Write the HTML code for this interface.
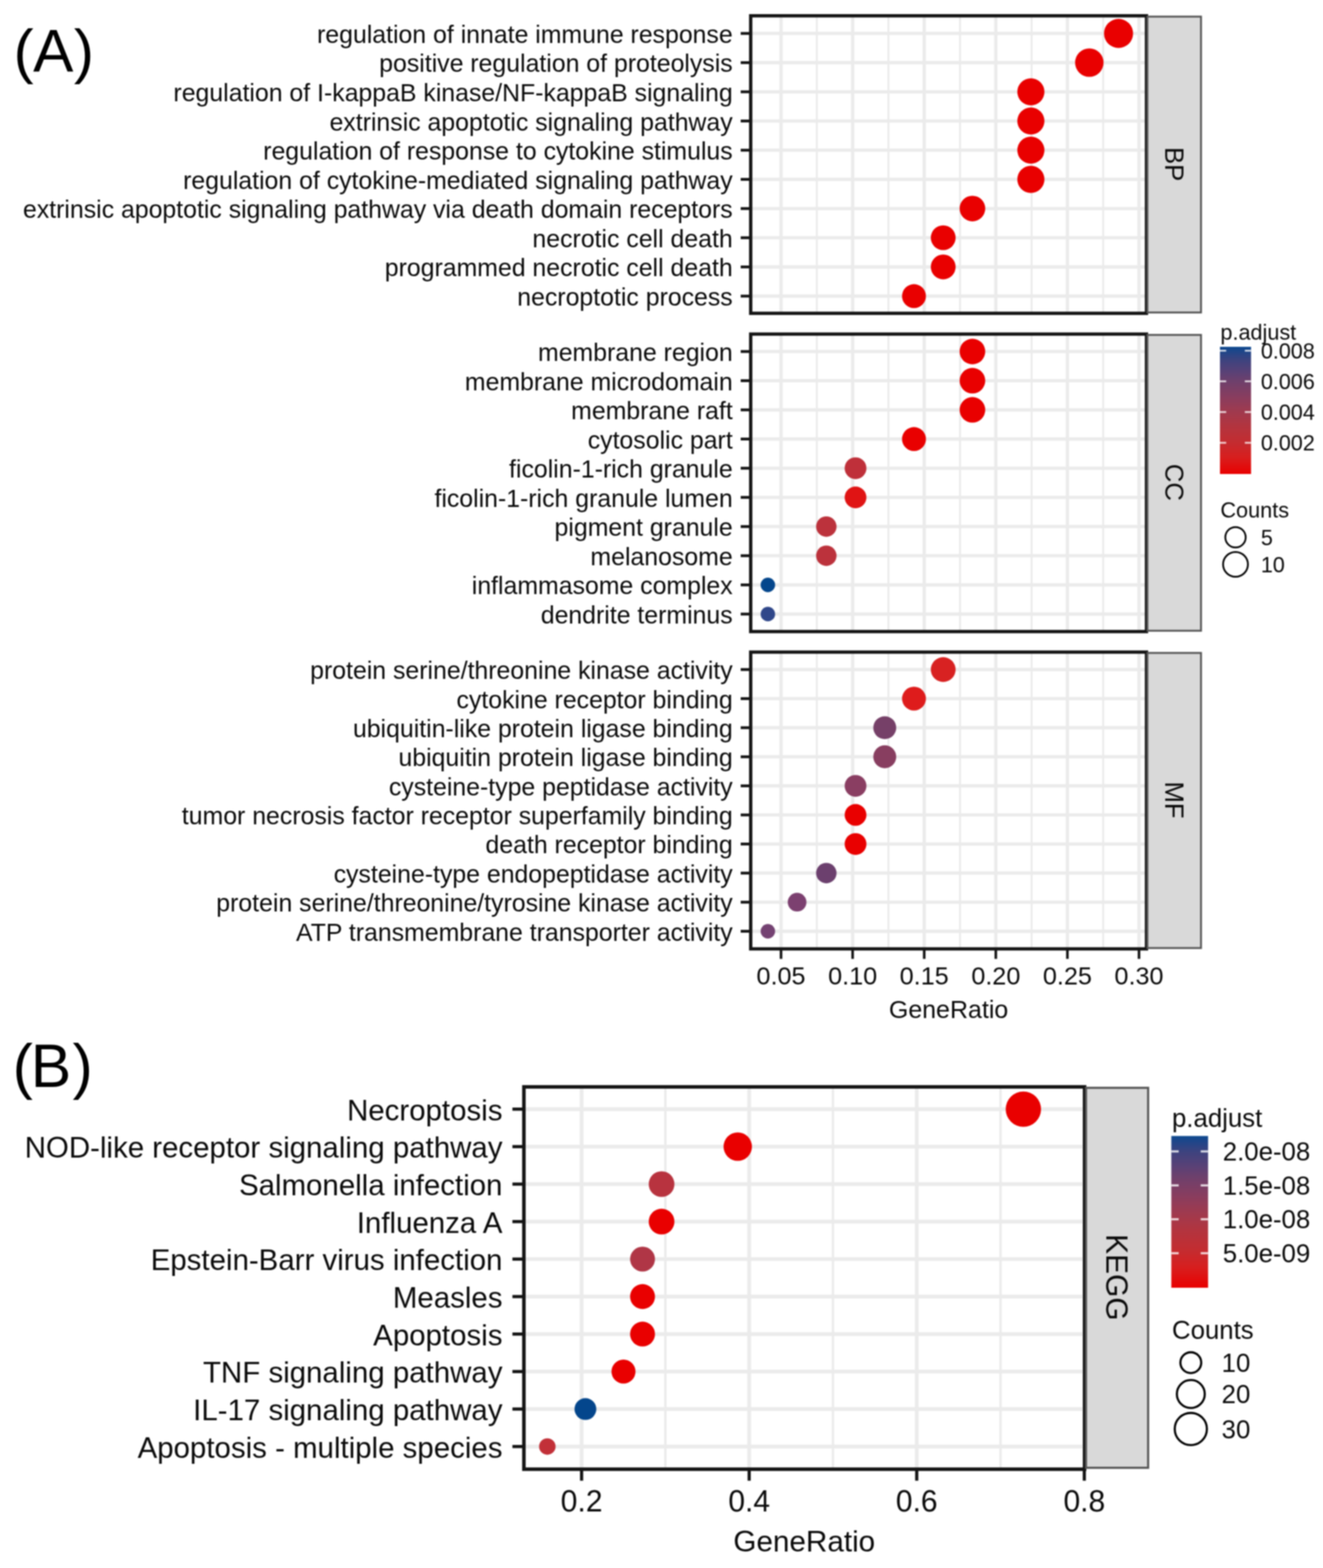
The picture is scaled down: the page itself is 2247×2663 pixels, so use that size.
<!DOCTYPE html>
<html lang="en"><head><meta charset="utf-8"><title>GO and KEGG enrichment dot plots</title>
<style>
html,body{margin:0;padding:0;background:#fff;}
body{width:2247px;height:2663px;overflow:hidden;}
svg{display:block;filter:blur(0.8px);}
text{font-family:"Liberation Sans", Arial, Helvetica, sans-serif;}
</style></head><body>
<svg width="2247" height="2663" viewBox="0 0 2247 2663" font-family='"Liberation Sans", Arial, Helvetica, sans-serif'>
<defs><linearGradient id="g" x1="0" y1="0" x2="0" y2="1"><stop offset="0.0" stop-color="#0d4a90"/><stop offset="0.03" stop-color="#1c468a"/><stop offset="0.1" stop-color="#3c437f"/><stop offset="0.2" stop-color="#5a4176"/><stop offset="0.27" stop-color="#6e406c"/><stop offset="0.4" stop-color="#8a3d5e"/><stop offset="0.51" stop-color="#a03a4e"/><stop offset="0.63" stop-color="#b4343e"/><stop offset="0.755" stop-color="#c42c30"/><stop offset="0.87" stop-color="#d81e1e"/><stop offset="1.0" stop-color="#e90000"/></linearGradient></defs>
<rect width="2247" height="2663" fill="#ffffff"/>
<text x="22.9" y="121.5" dx="0 -0.9 0.9" font-size="102.5" fill="#000000">(A)</text>
<text x="21.5" y="1846.0" dx="0 -3.6 2.4" font-size="103" fill="#000000">(B)</text>
<rect x="1275.0" y="26.8" width="672.2" height="505.3" fill="#ffffff"/>
<line x1="1387.30" x2="1387.30" y1="26.8" y2="532.1" stroke="#ebebeb" stroke-width="3.3"/>
<line x1="1508.90" x2="1508.90" y1="26.8" y2="532.1" stroke="#ebebeb" stroke-width="3.3"/>
<line x1="1630.50" x2="1630.50" y1="26.8" y2="532.1" stroke="#ebebeb" stroke-width="3.3"/>
<line x1="1752.10" x2="1752.10" y1="26.8" y2="532.1" stroke="#ebebeb" stroke-width="3.3"/>
<line x1="1873.70" x2="1873.70" y1="26.8" y2="532.1" stroke="#ebebeb" stroke-width="3.3"/>
<line x1="1326.50" x2="1326.50" y1="26.8" y2="532.1" stroke="#ebebeb" stroke-width="5.6"/>
<line x1="1448.10" x2="1448.10" y1="26.8" y2="532.1" stroke="#ebebeb" stroke-width="5.6"/>
<line x1="1569.70" x2="1569.70" y1="26.8" y2="532.1" stroke="#ebebeb" stroke-width="5.6"/>
<line x1="1691.30" x2="1691.30" y1="26.8" y2="532.1" stroke="#ebebeb" stroke-width="5.6"/>
<line x1="1812.90" x2="1812.90" y1="26.8" y2="532.1" stroke="#ebebeb" stroke-width="5.6"/>
<line x1="1934.50" x2="1934.50" y1="26.8" y2="532.1" stroke="#ebebeb" stroke-width="5.6"/>
<line x1="1275.0" x2="1947.2" y1="56.80" y2="56.80" stroke="#ebebeb" stroke-width="5.6"/>
<line x1="1275.0" x2="1947.2" y1="106.37" y2="106.37" stroke="#ebebeb" stroke-width="5.6"/>
<line x1="1275.0" x2="1947.2" y1="155.93" y2="155.93" stroke="#ebebeb" stroke-width="5.6"/>
<line x1="1275.0" x2="1947.2" y1="205.50" y2="205.50" stroke="#ebebeb" stroke-width="5.6"/>
<line x1="1275.0" x2="1947.2" y1="255.07" y2="255.07" stroke="#ebebeb" stroke-width="5.6"/>
<line x1="1275.0" x2="1947.2" y1="304.63" y2="304.63" stroke="#ebebeb" stroke-width="5.6"/>
<line x1="1275.0" x2="1947.2" y1="354.20" y2="354.20" stroke="#ebebeb" stroke-width="5.6"/>
<line x1="1275.0" x2="1947.2" y1="403.77" y2="403.77" stroke="#ebebeb" stroke-width="5.6"/>
<line x1="1275.0" x2="1947.2" y1="453.33" y2="453.33" stroke="#ebebeb" stroke-width="5.6"/>
<line x1="1275.0" x2="1947.2" y1="502.90" y2="502.90" stroke="#ebebeb" stroke-width="5.6"/>
<circle cx="1899.76" cy="56.80" r="24.70" fill="#e90000"/>
<circle cx="1850.12" cy="106.37" r="24.17" fill="#e90000"/>
<circle cx="1750.86" cy="155.93" r="23.04" fill="#e90000"/>
<circle cx="1750.86" cy="205.50" r="23.04" fill="#e90000"/>
<circle cx="1750.86" cy="255.07" r="23.04" fill="#e90000"/>
<circle cx="1750.86" cy="304.63" r="23.04" fill="#e90000"/>
<circle cx="1651.59" cy="354.20" r="21.77" fill="#e90000"/>
<circle cx="1601.96" cy="403.77" r="21.07" fill="#e90000"/>
<circle cx="1601.96" cy="453.33" r="21.07" fill="#e90000"/>
<circle cx="1552.33" cy="502.90" r="20.30" fill="#e90000"/>
<rect x="1275.0" y="26.8" width="672.2" height="505.3" fill="none" stroke="#141414" stroke-width="5.6"/>
<rect x="1948.8" y="28.2" width="91.0" height="502.50000000000006" fill="#d9d9d9" stroke="#555555" stroke-width="3.2"/>
<text transform="translate(1994.30,278.65) rotate(90)" x="0" y="15.66" font-size="43.5" text-anchor="middle" fill="#0a0a0a">BP</text>
<line x1="1258.00" x2="1275.00" y1="56.80" y2="56.80" stroke="#141414" stroke-width="4.8"/>
<text x="1244.40" y="72.84" font-size="42.2" text-anchor="end" fill="#0a0a0a">regulation of innate immune response</text>
<line x1="1258.00" x2="1275.00" y1="106.37" y2="106.37" stroke="#141414" stroke-width="4.8"/>
<text x="1244.40" y="122.40" font-size="42.2" text-anchor="end" fill="#0a0a0a">positive regulation of proteolysis</text>
<line x1="1258.00" x2="1275.00" y1="155.93" y2="155.93" stroke="#141414" stroke-width="4.8"/>
<text x="1244.40" y="171.97" font-size="42.2" text-anchor="end" fill="#0a0a0a">regulation of I-kappaB kinase/NF-kappaB signaling</text>
<line x1="1258.00" x2="1275.00" y1="205.50" y2="205.50" stroke="#141414" stroke-width="4.8"/>
<text x="1244.40" y="221.54" font-size="42.2" text-anchor="end" fill="#0a0a0a">extrinsic apoptotic signaling pathway</text>
<line x1="1258.00" x2="1275.00" y1="255.07" y2="255.07" stroke="#141414" stroke-width="4.8"/>
<text x="1244.40" y="271.10" font-size="42.2" text-anchor="end" fill="#0a0a0a">regulation of response to cytokine stimulus</text>
<line x1="1258.00" x2="1275.00" y1="304.63" y2="304.63" stroke="#141414" stroke-width="4.8"/>
<text x="1244.40" y="320.67" font-size="42.2" text-anchor="end" fill="#0a0a0a">regulation of cytokine-mediated signaling pathway</text>
<line x1="1258.00" x2="1275.00" y1="354.20" y2="354.20" stroke="#141414" stroke-width="4.8"/>
<text x="1244.40" y="370.24" font-size="42.2" text-anchor="end" fill="#0a0a0a">extrinsic apoptotic signaling pathway via death domain receptors</text>
<line x1="1258.00" x2="1275.00" y1="403.77" y2="403.77" stroke="#141414" stroke-width="4.8"/>
<text x="1244.40" y="419.80" font-size="42.2" text-anchor="end" fill="#0a0a0a">necrotic cell death</text>
<line x1="1258.00" x2="1275.00" y1="453.33" y2="453.33" stroke="#141414" stroke-width="4.8"/>
<text x="1244.40" y="469.37" font-size="42.2" text-anchor="end" fill="#0a0a0a">programmed necrotic cell death</text>
<line x1="1258.00" x2="1275.00" y1="502.90" y2="502.90" stroke="#141414" stroke-width="4.8"/>
<text x="1244.40" y="518.94" font-size="42.2" text-anchor="end" fill="#0a0a0a">necroptotic process</text>
<rect x="1275.0" y="567.4" width="672.2" height="505.19999999999993" fill="#ffffff"/>
<line x1="1387.30" x2="1387.30" y1="567.4" y2="1072.6" stroke="#ebebeb" stroke-width="3.3"/>
<line x1="1508.90" x2="1508.90" y1="567.4" y2="1072.6" stroke="#ebebeb" stroke-width="3.3"/>
<line x1="1630.50" x2="1630.50" y1="567.4" y2="1072.6" stroke="#ebebeb" stroke-width="3.3"/>
<line x1="1752.10" x2="1752.10" y1="567.4" y2="1072.6" stroke="#ebebeb" stroke-width="3.3"/>
<line x1="1873.70" x2="1873.70" y1="567.4" y2="1072.6" stroke="#ebebeb" stroke-width="3.3"/>
<line x1="1326.50" x2="1326.50" y1="567.4" y2="1072.6" stroke="#ebebeb" stroke-width="5.6"/>
<line x1="1448.10" x2="1448.10" y1="567.4" y2="1072.6" stroke="#ebebeb" stroke-width="5.6"/>
<line x1="1569.70" x2="1569.70" y1="567.4" y2="1072.6" stroke="#ebebeb" stroke-width="5.6"/>
<line x1="1691.30" x2="1691.30" y1="567.4" y2="1072.6" stroke="#ebebeb" stroke-width="5.6"/>
<line x1="1812.90" x2="1812.90" y1="567.4" y2="1072.6" stroke="#ebebeb" stroke-width="5.6"/>
<line x1="1934.50" x2="1934.50" y1="567.4" y2="1072.6" stroke="#ebebeb" stroke-width="5.6"/>
<line x1="1275.0" x2="1947.2" y1="597.00" y2="597.00" stroke="#ebebeb" stroke-width="5.6"/>
<line x1="1275.0" x2="1947.2" y1="646.54" y2="646.54" stroke="#ebebeb" stroke-width="5.6"/>
<line x1="1275.0" x2="1947.2" y1="696.09" y2="696.09" stroke="#ebebeb" stroke-width="5.6"/>
<line x1="1275.0" x2="1947.2" y1="745.63" y2="745.63" stroke="#ebebeb" stroke-width="5.6"/>
<line x1="1275.0" x2="1947.2" y1="795.18" y2="795.18" stroke="#ebebeb" stroke-width="5.6"/>
<line x1="1275.0" x2="1947.2" y1="844.72" y2="844.72" stroke="#ebebeb" stroke-width="5.6"/>
<line x1="1275.0" x2="1947.2" y1="894.27" y2="894.27" stroke="#ebebeb" stroke-width="5.6"/>
<line x1="1275.0" x2="1947.2" y1="943.81" y2="943.81" stroke="#ebebeb" stroke-width="5.6"/>
<line x1="1275.0" x2="1947.2" y1="993.36" y2="993.36" stroke="#ebebeb" stroke-width="5.6"/>
<line x1="1275.0" x2="1947.2" y1="1042.90" y2="1042.90" stroke="#ebebeb" stroke-width="5.6"/>
<circle cx="1651.59" cy="597.00" r="21.77" fill="#e90000"/>
<circle cx="1651.59" cy="646.54" r="21.77" fill="#e90000"/>
<circle cx="1651.59" cy="696.09" r="21.77" fill="#e90000"/>
<circle cx="1552.33" cy="745.63" r="20.30" fill="#e90000"/>
<circle cx="1453.06" cy="795.18" r="18.50" fill="#bf303a"/>
<circle cx="1453.06" cy="844.72" r="18.50" fill="#e01414"/>
<circle cx="1403.43" cy="894.27" r="17.36" fill="#bc323c"/>
<circle cx="1403.43" cy="943.81" r="17.36" fill="#bc323c"/>
<circle cx="1304.17" cy="993.36" r="12.30" fill="#04468c"/>
<circle cx="1304.17" cy="1042.90" r="12.30" fill="#30478a"/>
<rect x="1275.0" y="567.4" width="672.2" height="505.19999999999993" fill="none" stroke="#141414" stroke-width="5.6"/>
<rect x="1948.8" y="568.8" width="91.0" height="502.39999999999986" fill="#d9d9d9" stroke="#555555" stroke-width="3.2"/>
<text transform="translate(1994.30,819.20) rotate(90)" x="0" y="15.66" font-size="43.5" text-anchor="middle" fill="#0a0a0a">CC</text>
<line x1="1258.00" x2="1275.00" y1="597.00" y2="597.00" stroke="#141414" stroke-width="4.8"/>
<text x="1244.40" y="613.04" font-size="42.2" text-anchor="end" fill="#0a0a0a">membrane region</text>
<line x1="1258.00" x2="1275.00" y1="646.54" y2="646.54" stroke="#141414" stroke-width="4.8"/>
<text x="1244.40" y="662.58" font-size="42.2" text-anchor="end" fill="#0a0a0a">membrane microdomain</text>
<line x1="1258.00" x2="1275.00" y1="696.09" y2="696.09" stroke="#141414" stroke-width="4.8"/>
<text x="1244.40" y="712.12" font-size="42.2" text-anchor="end" fill="#0a0a0a">membrane raft</text>
<line x1="1258.00" x2="1275.00" y1="745.63" y2="745.63" stroke="#141414" stroke-width="4.8"/>
<text x="1244.40" y="761.67" font-size="42.2" text-anchor="end" fill="#0a0a0a">cytosolic part</text>
<line x1="1258.00" x2="1275.00" y1="795.18" y2="795.18" stroke="#141414" stroke-width="4.8"/>
<text x="1244.40" y="811.21" font-size="42.2" text-anchor="end" fill="#0a0a0a">ficolin-1-rich granule</text>
<line x1="1258.00" x2="1275.00" y1="844.72" y2="844.72" stroke="#141414" stroke-width="4.8"/>
<text x="1244.40" y="860.76" font-size="42.2" text-anchor="end" fill="#0a0a0a">ficolin-1-rich granule lumen</text>
<line x1="1258.00" x2="1275.00" y1="894.27" y2="894.27" stroke="#141414" stroke-width="4.8"/>
<text x="1244.40" y="910.30" font-size="42.2" text-anchor="end" fill="#0a0a0a">pigment granule</text>
<line x1="1258.00" x2="1275.00" y1="943.81" y2="943.81" stroke="#141414" stroke-width="4.8"/>
<text x="1244.40" y="959.85" font-size="42.2" text-anchor="end" fill="#0a0a0a">melanosome</text>
<line x1="1258.00" x2="1275.00" y1="993.36" y2="993.36" stroke="#141414" stroke-width="4.8"/>
<text x="1244.40" y="1009.39" font-size="42.2" text-anchor="end" fill="#0a0a0a">inflammasome complex</text>
<line x1="1258.00" x2="1275.00" y1="1042.90" y2="1042.90" stroke="#141414" stroke-width="4.8"/>
<text x="1244.40" y="1058.94" font-size="42.2" text-anchor="end" fill="#0a0a0a">dendrite terminus</text>
<rect x="1275.0" y="1107.5" width="672.2" height="504.0" fill="#ffffff"/>
<line x1="1387.30" x2="1387.30" y1="1107.5" y2="1611.5" stroke="#ebebeb" stroke-width="3.3"/>
<line x1="1508.90" x2="1508.90" y1="1107.5" y2="1611.5" stroke="#ebebeb" stroke-width="3.3"/>
<line x1="1630.50" x2="1630.50" y1="1107.5" y2="1611.5" stroke="#ebebeb" stroke-width="3.3"/>
<line x1="1752.10" x2="1752.10" y1="1107.5" y2="1611.5" stroke="#ebebeb" stroke-width="3.3"/>
<line x1="1873.70" x2="1873.70" y1="1107.5" y2="1611.5" stroke="#ebebeb" stroke-width="3.3"/>
<line x1="1326.50" x2="1326.50" y1="1107.5" y2="1611.5" stroke="#ebebeb" stroke-width="5.6"/>
<line x1="1448.10" x2="1448.10" y1="1107.5" y2="1611.5" stroke="#ebebeb" stroke-width="5.6"/>
<line x1="1569.70" x2="1569.70" y1="1107.5" y2="1611.5" stroke="#ebebeb" stroke-width="5.6"/>
<line x1="1691.30" x2="1691.30" y1="1107.5" y2="1611.5" stroke="#ebebeb" stroke-width="5.6"/>
<line x1="1812.90" x2="1812.90" y1="1107.5" y2="1611.5" stroke="#ebebeb" stroke-width="5.6"/>
<line x1="1934.50" x2="1934.50" y1="1107.5" y2="1611.5" stroke="#ebebeb" stroke-width="5.6"/>
<line x1="1275.0" x2="1947.2" y1="1137.10" y2="1137.10" stroke="#ebebeb" stroke-width="5.6"/>
<line x1="1275.0" x2="1947.2" y1="1186.49" y2="1186.49" stroke="#ebebeb" stroke-width="5.6"/>
<line x1="1275.0" x2="1947.2" y1="1235.88" y2="1235.88" stroke="#ebebeb" stroke-width="5.6"/>
<line x1="1275.0" x2="1947.2" y1="1285.27" y2="1285.27" stroke="#ebebeb" stroke-width="5.6"/>
<line x1="1275.0" x2="1947.2" y1="1334.66" y2="1334.66" stroke="#ebebeb" stroke-width="5.6"/>
<line x1="1275.0" x2="1947.2" y1="1384.04" y2="1384.04" stroke="#ebebeb" stroke-width="5.6"/>
<line x1="1275.0" x2="1947.2" y1="1433.43" y2="1433.43" stroke="#ebebeb" stroke-width="5.6"/>
<line x1="1275.0" x2="1947.2" y1="1482.82" y2="1482.82" stroke="#ebebeb" stroke-width="5.6"/>
<line x1="1275.0" x2="1947.2" y1="1532.21" y2="1532.21" stroke="#ebebeb" stroke-width="5.6"/>
<line x1="1275.0" x2="1947.2" y1="1581.60" y2="1581.60" stroke="#ebebeb" stroke-width="5.6"/>
<circle cx="1601.96" cy="1137.10" r="21.07" fill="#d82222"/>
<circle cx="1552.33" cy="1186.49" r="20.30" fill="#de1c1c"/>
<circle cx="1502.70" cy="1235.88" r="19.46" fill="#764068"/>
<circle cx="1502.70" cy="1285.27" r="19.46" fill="#883e60"/>
<circle cx="1453.06" cy="1334.66" r="18.50" fill="#8a3e62"/>
<circle cx="1453.06" cy="1384.04" r="18.50" fill="#e90000"/>
<circle cx="1453.06" cy="1433.43" r="18.50" fill="#e90000"/>
<circle cx="1403.43" cy="1482.82" r="17.36" fill="#6c406e"/>
<circle cx="1353.80" cy="1532.21" r="15.88" fill="#7c4070"/>
<circle cx="1304.17" cy="1581.60" r="12.30" fill="#744272"/>
<rect x="1275.0" y="1107.5" width="672.2" height="504.0" fill="none" stroke="#141414" stroke-width="5.6"/>
<rect x="1948.8" y="1108.9" width="91.0" height="501.1999999999998" fill="#d9d9d9" stroke="#555555" stroke-width="3.2"/>
<text transform="translate(1994.30,1358.70) rotate(90)" x="0" y="15.66" font-size="43.5" text-anchor="middle" fill="#0a0a0a">MF</text>
<line x1="1258.00" x2="1275.00" y1="1137.10" y2="1137.10" stroke="#141414" stroke-width="4.8"/>
<text x="1244.40" y="1153.14" font-size="42.2" text-anchor="end" fill="#0a0a0a">protein serine/threonine kinase activity</text>
<line x1="1258.00" x2="1275.00" y1="1186.49" y2="1186.49" stroke="#141414" stroke-width="4.8"/>
<text x="1244.40" y="1202.52" font-size="42.2" text-anchor="end" fill="#0a0a0a">cytokine receptor binding</text>
<line x1="1258.00" x2="1275.00" y1="1235.88" y2="1235.88" stroke="#141414" stroke-width="4.8"/>
<text x="1244.40" y="1251.91" font-size="42.2" text-anchor="end" fill="#0a0a0a">ubiquitin-like protein ligase binding</text>
<line x1="1258.00" x2="1275.00" y1="1285.27" y2="1285.27" stroke="#141414" stroke-width="4.8"/>
<text x="1244.40" y="1301.30" font-size="42.2" text-anchor="end" fill="#0a0a0a">ubiquitin protein ligase binding</text>
<line x1="1258.00" x2="1275.00" y1="1334.66" y2="1334.66" stroke="#141414" stroke-width="4.8"/>
<text x="1244.40" y="1350.69" font-size="42.2" text-anchor="end" fill="#0a0a0a">cysteine-type peptidase activity</text>
<line x1="1258.00" x2="1275.00" y1="1384.04" y2="1384.04" stroke="#141414" stroke-width="4.8"/>
<text x="1244.40" y="1400.08" font-size="42.2" text-anchor="end" fill="#0a0a0a">tumor necrosis factor receptor superfamily binding</text>
<line x1="1258.00" x2="1275.00" y1="1433.43" y2="1433.43" stroke="#141414" stroke-width="4.8"/>
<text x="1244.40" y="1449.47" font-size="42.2" text-anchor="end" fill="#0a0a0a">death receptor binding</text>
<line x1="1258.00" x2="1275.00" y1="1482.82" y2="1482.82" stroke="#141414" stroke-width="4.8"/>
<text x="1244.40" y="1498.86" font-size="42.2" text-anchor="end" fill="#0a0a0a">cysteine-type endopeptidase activity</text>
<line x1="1258.00" x2="1275.00" y1="1532.21" y2="1532.21" stroke="#141414" stroke-width="4.8"/>
<text x="1244.40" y="1548.25" font-size="42.2" text-anchor="end" fill="#0a0a0a">protein serine/threonine/tyrosine kinase activity</text>
<line x1="1258.00" x2="1275.00" y1="1581.60" y2="1581.60" stroke="#141414" stroke-width="4.8"/>
<text x="1244.40" y="1597.64" font-size="42.2" text-anchor="end" fill="#0a0a0a">ATP transmembrane transporter activity</text>
<line x1="1326.50" x2="1326.50" y1="1611.5" y2="1628.50" stroke="#141414" stroke-width="4.4"/>
<text x="1326.50" y="1672.40" font-size="42.8" text-anchor="middle" fill="#0a0a0a">0.05</text>
<line x1="1448.10" x2="1448.10" y1="1611.5" y2="1628.50" stroke="#141414" stroke-width="4.4"/>
<text x="1448.10" y="1672.40" font-size="42.8" text-anchor="middle" fill="#0a0a0a">0.10</text>
<line x1="1569.70" x2="1569.70" y1="1611.5" y2="1628.50" stroke="#141414" stroke-width="4.4"/>
<text x="1569.70" y="1672.40" font-size="42.8" text-anchor="middle" fill="#0a0a0a">0.15</text>
<line x1="1691.30" x2="1691.30" y1="1611.5" y2="1628.50" stroke="#141414" stroke-width="4.4"/>
<text x="1691.30" y="1672.40" font-size="42.8" text-anchor="middle" fill="#0a0a0a">0.20</text>
<line x1="1812.90" x2="1812.90" y1="1611.5" y2="1628.50" stroke="#141414" stroke-width="4.4"/>
<text x="1812.90" y="1672.40" font-size="42.8" text-anchor="middle" fill="#0a0a0a">0.25</text>
<line x1="1934.50" x2="1934.50" y1="1611.5" y2="1628.50" stroke="#141414" stroke-width="4.4"/>
<text x="1934.50" y="1672.40" font-size="42.8" text-anchor="middle" fill="#0a0a0a">0.30</text>
<text x="1611.10" y="1728.50" font-size="42.4" text-anchor="middle" fill="#0a0a0a">GeneRatio</text>
<text x="2072.70" y="577.40" font-size="36.8" text-anchor="start" fill="#0a0a0a">p.adjust</text>
<rect x="2072.0" y="589.0" width="52.80000000000018" height="216.0" fill="url(#g)"/>
<line x1="2072.0" x2="2082.56" y1="595.6" y2="595.6" stroke="#ffffff" stroke-opacity="0.8" stroke-width="3.0"/>
<line x1="2114.24" x2="2124.8" y1="595.6" y2="595.6" stroke="#ffffff" stroke-opacity="0.8" stroke-width="3.0"/>
<text x="2141.50" y="608.78" font-size="36.6" text-anchor="start" fill="#0a0a0a">0.008</text>
<line x1="2072.0" x2="2082.56" y1="647.6" y2="647.6" stroke="#ffffff" stroke-opacity="0.8" stroke-width="3.0"/>
<line x1="2114.24" x2="2124.8" y1="647.6" y2="647.6" stroke="#ffffff" stroke-opacity="0.8" stroke-width="3.0"/>
<text x="2141.50" y="660.78" font-size="36.6" text-anchor="start" fill="#0a0a0a">0.006</text>
<line x1="2072.0" x2="2082.56" y1="699.8" y2="699.8" stroke="#ffffff" stroke-opacity="0.8" stroke-width="3.0"/>
<line x1="2114.24" x2="2124.8" y1="699.8" y2="699.8" stroke="#ffffff" stroke-opacity="0.8" stroke-width="3.0"/>
<text x="2141.50" y="712.98" font-size="36.6" text-anchor="start" fill="#0a0a0a">0.004</text>
<line x1="2072.0" x2="2082.56" y1="752.0" y2="752.0" stroke="#ffffff" stroke-opacity="0.8" stroke-width="3.0"/>
<line x1="2114.24" x2="2124.8" y1="752.0" y2="752.0" stroke="#ffffff" stroke-opacity="0.8" stroke-width="3.0"/>
<text x="2141.50" y="765.18" font-size="36.6" text-anchor="start" fill="#0a0a0a">0.002</text>
<text x="2072.70" y="878.50" font-size="36.8" text-anchor="start" fill="#0a0a0a">Counts</text>
<circle cx="2098.4" cy="912.5" r="17.3" fill="none" stroke="#000000" stroke-width="3.0"/>
<text x="2141.50" y="925.68" font-size="36.6" text-anchor="start" fill="#0a0a0a">5</text>
<circle cx="2098.4" cy="958.5" r="21.1" fill="none" stroke="#000000" stroke-width="3.0"/>
<text x="2141.50" y="971.68" font-size="36.6" text-anchor="start" fill="#0a0a0a">10</text>
<rect x="889.8" y="1845.9" width="952.3" height="649.2999999999997" fill="#ffffff"/>
<line x1="1130.10" x2="1130.10" y1="1845.9" y2="2495.2" stroke="#ebebeb" stroke-width="4.0"/>
<line x1="1414.70" x2="1414.70" y1="1845.9" y2="2495.2" stroke="#ebebeb" stroke-width="4.0"/>
<line x1="1699.30" x2="1699.30" y1="1845.9" y2="2495.2" stroke="#ebebeb" stroke-width="4.0"/>
<line x1="987.80" x2="987.80" y1="1845.9" y2="2495.2" stroke="#ebebeb" stroke-width="6.4"/>
<line x1="1272.40" x2="1272.40" y1="1845.9" y2="2495.2" stroke="#ebebeb" stroke-width="6.4"/>
<line x1="1557.00" x2="1557.00" y1="1845.9" y2="2495.2" stroke="#ebebeb" stroke-width="6.4"/>
<line x1="1841.60" x2="1841.60" y1="1845.9" y2="2495.2" stroke="#ebebeb" stroke-width="6.4"/>
<line x1="889.8" x2="1842.1" y1="1883.70" y2="1883.70" stroke="#ebebeb" stroke-width="6.4"/>
<line x1="889.8" x2="1842.1" y1="1947.37" y2="1947.37" stroke="#ebebeb" stroke-width="6.4"/>
<line x1="889.8" x2="1842.1" y1="2011.03" y2="2011.03" stroke="#ebebeb" stroke-width="6.4"/>
<line x1="889.8" x2="1842.1" y1="2074.70" y2="2074.70" stroke="#ebebeb" stroke-width="6.4"/>
<line x1="889.8" x2="1842.1" y1="2138.37" y2="2138.37" stroke="#ebebeb" stroke-width="6.4"/>
<line x1="889.8" x2="1842.1" y1="2202.03" y2="2202.03" stroke="#ebebeb" stroke-width="6.4"/>
<line x1="889.8" x2="1842.1" y1="2265.70" y2="2265.70" stroke="#ebebeb" stroke-width="6.4"/>
<line x1="889.8" x2="1842.1" y1="2329.37" y2="2329.37" stroke="#ebebeb" stroke-width="6.4"/>
<line x1="889.8" x2="1842.1" y1="2393.03" y2="2393.03" stroke="#ebebeb" stroke-width="6.4"/>
<line x1="889.8" x2="1842.1" y1="2456.70" y2="2456.70" stroke="#ebebeb" stroke-width="6.4"/>
<circle cx="1738.11" cy="1883.70" r="30.00" fill="#e90000"/>
<circle cx="1253.00" cy="1947.37" r="24.12" fill="#e90000"/>
<circle cx="1123.63" cy="2011.03" r="21.84" fill="#b8333f"/>
<circle cx="1123.63" cy="2074.70" r="21.84" fill="#e90000"/>
<circle cx="1091.29" cy="2138.37" r="21.16" fill="#b03646"/>
<circle cx="1091.29" cy="2202.03" r="21.16" fill="#e90000"/>
<circle cx="1091.29" cy="2265.70" r="21.16" fill="#e90000"/>
<circle cx="1058.95" cy="2329.37" r="20.40" fill="#e90000"/>
<circle cx="994.27" cy="2393.03" r="18.53" fill="#04468c"/>
<circle cx="929.59" cy="2456.70" r="14.00" fill="#c23038"/>
<rect x="889.8" y="1845.9" width="952.3" height="649.2999999999997" fill="none" stroke="#141414" stroke-width="6.0"/>
<rect x="1844.5" y="1847.5" width="105.5" height="645.2999999999997" fill="#d9d9d9" stroke="#555555" stroke-width="3.6"/>
<text transform="translate(1897.25,2169.35) rotate(90)" x="0" y="18.36" font-size="51.0" text-anchor="middle" fill="#0a0a0a">KEGG</text>
<line x1="870.30" x2="889.80" y1="1883.70" y2="1883.70" stroke="#141414" stroke-width="5.4"/>
<text x="853.40" y="1902.70" font-size="50.0" text-anchor="end" fill="#0a0a0a">Necroptosis</text>
<line x1="870.30" x2="889.80" y1="1947.37" y2="1947.37" stroke="#141414" stroke-width="5.4"/>
<text x="853.40" y="1966.37" font-size="50.0" text-anchor="end" fill="#0a0a0a">NOD-like receptor signaling pathway</text>
<line x1="870.30" x2="889.80" y1="2011.03" y2="2011.03" stroke="#141414" stroke-width="5.4"/>
<text x="853.40" y="2030.03" font-size="50.0" text-anchor="end" fill="#0a0a0a">Salmonella infection</text>
<line x1="870.30" x2="889.80" y1="2074.70" y2="2074.70" stroke="#141414" stroke-width="5.4"/>
<text x="853.40" y="2093.70" font-size="50.0" text-anchor="end" fill="#0a0a0a">Influenza A</text>
<line x1="870.30" x2="889.80" y1="2138.37" y2="2138.37" stroke="#141414" stroke-width="5.4"/>
<text x="853.40" y="2157.37" font-size="50.0" text-anchor="end" fill="#0a0a0a">Epstein-Barr virus infection</text>
<line x1="870.30" x2="889.80" y1="2202.03" y2="2202.03" stroke="#141414" stroke-width="5.4"/>
<text x="853.40" y="2221.03" font-size="50.0" text-anchor="end" fill="#0a0a0a">Measles</text>
<line x1="870.30" x2="889.80" y1="2265.70" y2="2265.70" stroke="#141414" stroke-width="5.4"/>
<text x="853.40" y="2284.70" font-size="50.0" text-anchor="end" fill="#0a0a0a">Apoptosis</text>
<line x1="870.30" x2="889.80" y1="2329.37" y2="2329.37" stroke="#141414" stroke-width="5.4"/>
<text x="853.40" y="2348.37" font-size="50.0" text-anchor="end" fill="#0a0a0a">TNF signaling pathway</text>
<line x1="870.30" x2="889.80" y1="2393.03" y2="2393.03" stroke="#141414" stroke-width="5.4"/>
<text x="853.40" y="2412.03" font-size="50.0" text-anchor="end" fill="#0a0a0a">IL-17 signaling pathway</text>
<line x1="870.30" x2="889.80" y1="2456.70" y2="2456.70" stroke="#141414" stroke-width="5.4"/>
<text x="853.40" y="2475.70" font-size="50.0" text-anchor="end" fill="#0a0a0a">Apoptosis - multiple species</text>
<line x1="987.80" x2="987.80" y1="2495.2" y2="2514.70" stroke="#141414" stroke-width="5.4"/>
<text x="987.80" y="2567.20" font-size="51.0" text-anchor="middle" fill="#0a0a0a">0.2</text>
<line x1="1272.40" x2="1272.40" y1="2495.2" y2="2514.70" stroke="#141414" stroke-width="5.4"/>
<text x="1272.40" y="2567.20" font-size="51.0" text-anchor="middle" fill="#0a0a0a">0.4</text>
<line x1="1557.00" x2="1557.00" y1="2495.2" y2="2514.70" stroke="#141414" stroke-width="5.4"/>
<text x="1557.00" y="2567.20" font-size="51.0" text-anchor="middle" fill="#0a0a0a">0.6</text>
<line x1="1841.60" x2="1841.60" y1="2495.2" y2="2514.70" stroke="#141414" stroke-width="5.4"/>
<text x="1841.60" y="2567.20" font-size="51.0" text-anchor="middle" fill="#0a0a0a">0.8</text>
<text x="1365.95" y="2635.00" font-size="50.4" text-anchor="middle" fill="#0a0a0a">GeneRatio</text>
<text x="1990.50" y="1913.50" font-size="43.8" text-anchor="start" fill="#0a0a0a">p.adjust</text>
<rect x="1989.4" y="1929.3" width="62.40000000000009" height="257.70000000000005" fill="url(#g)"/>
<line x1="1989.4" x2="2001.88" y1="1955.5" y2="1955.5" stroke="#ffffff" stroke-opacity="0.8" stroke-width="3.6"/>
<line x1="2039.32" x2="2051.8" y1="1955.5" y2="1955.5" stroke="#ffffff" stroke-opacity="0.8" stroke-width="3.6"/>
<text x="2076.80" y="1971.27" font-size="43.8" text-anchor="start" fill="#0a0a0a">2.0e-08</text>
<line x1="1989.4" x2="2001.88" y1="2013.2" y2="2013.2" stroke="#ffffff" stroke-opacity="0.8" stroke-width="3.6"/>
<line x1="2039.32" x2="2051.8" y1="2013.2" y2="2013.2" stroke="#ffffff" stroke-opacity="0.8" stroke-width="3.6"/>
<text x="2076.80" y="2028.97" font-size="43.8" text-anchor="start" fill="#0a0a0a">1.5e-08</text>
<line x1="1989.4" x2="2001.88" y1="2070.7" y2="2070.7" stroke="#ffffff" stroke-opacity="0.8" stroke-width="3.6"/>
<line x1="2039.32" x2="2051.8" y1="2070.7" y2="2070.7" stroke="#ffffff" stroke-opacity="0.8" stroke-width="3.6"/>
<text x="2076.80" y="2086.47" font-size="43.8" text-anchor="start" fill="#0a0a0a">1.0e-08</text>
<line x1="1989.4" x2="2001.88" y1="2128.4" y2="2128.4" stroke="#ffffff" stroke-opacity="0.8" stroke-width="3.6"/>
<line x1="2039.32" x2="2051.8" y1="2128.4" y2="2128.4" stroke="#ffffff" stroke-opacity="0.8" stroke-width="3.6"/>
<text x="2076.80" y="2144.17" font-size="43.8" text-anchor="start" fill="#0a0a0a">5.0e-09</text>
<text x="1990.50" y="2273.80" font-size="43.8" text-anchor="start" fill="#0a0a0a">Counts</text>
<circle cx="2022.5" cy="2314.3" r="17.7" fill="none" stroke="#000000" stroke-width="3.6"/>
<text x="2074.80" y="2330.07" font-size="43.8" text-anchor="start" fill="#0a0a0a">10</text>
<circle cx="2022.5" cy="2367.5" r="23.7" fill="none" stroke="#000000" stroke-width="3.6"/>
<text x="2074.80" y="2383.27" font-size="43.8" text-anchor="start" fill="#0a0a0a">20</text>
<circle cx="2022.5" cy="2426.9" r="27.3" fill="none" stroke="#000000" stroke-width="3.6"/>
<text x="2074.80" y="2442.67" font-size="43.8" text-anchor="start" fill="#0a0a0a">30</text>
</svg>
</body></html>
